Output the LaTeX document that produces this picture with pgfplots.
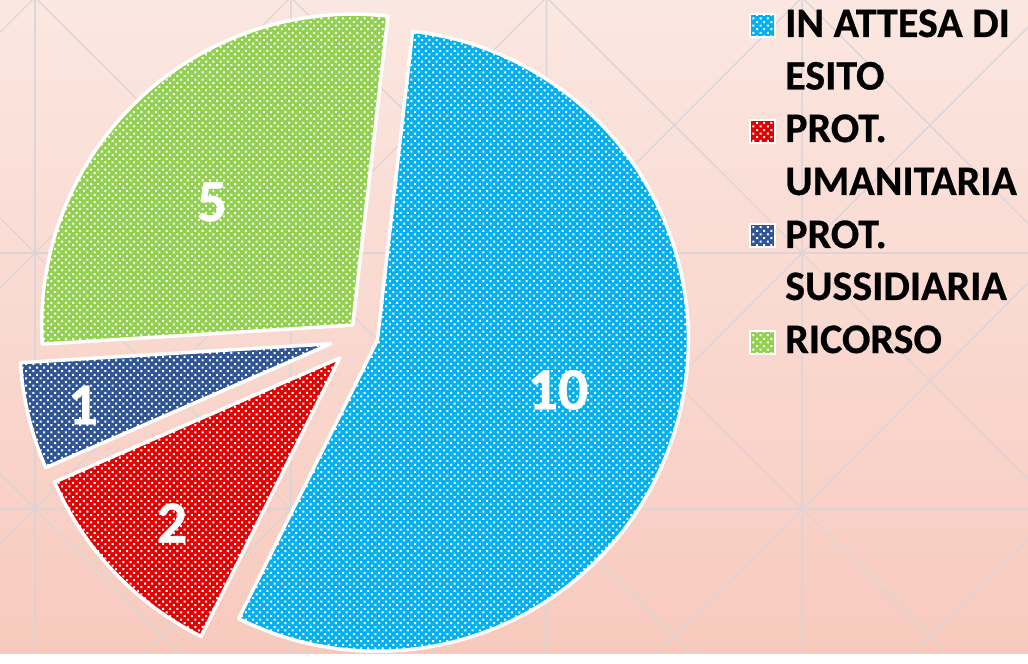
\documentclass[border=0pt]{standalone}
\usepackage{pgfplots}
\pgfplotsset{compat=1.18}
\usetikzlibrary{patterns}
\usepackage{fontspec}
\setmainfont{Carlito}[BoldFeatures={FakeBold=0.6}]

\definecolor{cblue}{RGB}{0,176,240}
\definecolor{cred}{RGB}{226,0,0}
\definecolor{cnavy}{RGB}{47,85,151}
\definecolor{cgreen}{RGB}{146,208,80}
\definecolor{bgtop}{RGB}{251,231,225}
\definecolor{bgbot}{RGB}{248,202,190}
\definecolor{gridc}{RGB}{218,212,214}

% white dots as in the office "dotted" fill
\pgfdeclarepatternformonly{whitedots}{\pgfqpoint{-1pt}{-1pt}}{\pgfqpoint{8pt}{8pt}}{\pgfqpoint{7.2pt}{7.2pt}}{%
  \pgfpathrectangle{\pgfqpoint{0pt}{0pt}}{\pgfqpoint{2pt}{2pt}}%
  \pgfpathrectangle{\pgfqpoint{3.6pt}{3.6pt}}{\pgfqpoint{2pt}{2pt}}%
  \pgfusepath{fill}}

% pie geometry (pixels, y downwards)
\def\total{18}
\def\startang{83.5}
\def\R{311}
\def\cx{363}
\def\cy{336}

\begin{document}
\begin{tikzpicture}
\begin{axis}[
    scale only axis, width=1028pt, height=653pt,
    xmin=0, xmax=1028, ymin=0, ymax=653,
    y dir=reverse,
    hide axis, clip=false,
  ]
  % background
  \fill[top color=bgtop, bottom color=bgbot] (axis cs:0,0) rectangle (axis cs:1028,653);
  \begin{scope}
  \clip (axis cs:0,0) rectangle (axis cs:1028,653);
  \foreach \k in {-1,0,1,2,3} {
    \foreach \j in {-1,0,1,2} {
      \pgfmathsetmacro\xa{35+255.7*\k}
      \pgfmathsetmacro\xb{35+255.7*(\k+1)}
      \pgfmathsetmacro\ya{-2.6+255.7*\j}
      \pgfmathsetmacro\yb{-2.6+255.7*(\j+1)}
      \edef\next{\noexpand\draw[gridc, line width=1.2pt]
        (axis cs:\xa,\ya) rectangle (axis cs:\xb,\yb)
        (axis cs:\xa,\ya) -- (axis cs:\xb,\yb)
        (axis cs:\xa,\yb) -- (axis cs:\xb,\ya);}
      \next
    }
  }
  \end{scope}

  % slices: value / colour / explosion
  \xdef\curang{\startang}
  \foreach \v/\col/\d in {10/cblue/15, 2/cred/32, 1/cnavy/33, 5/cgreen/15} {
    \pgfmathsetmacro\sweep{360*\v/\total}
    \pgfmathsetmacro\endang{\curang-\sweep}
    \pgfmathsetmacro\mid{\curang-\sweep/2}
    \pgfmathsetmacro\vx{\cx+\d*cos(\mid)}
    \pgfmathsetmacro\vy{\cy-\d*sin(\mid)}
    \edef\next{\noexpand\path[preaction={fill=\col}, pattern=whitedots, pattern color=white,
        draw=white, line width=3.5pt, line join=round]
      (axis cs:\vx,\vy) -- ++(\curang:\R pt)
      arc[start angle=\curang, end angle=\endang, radius=\R pt] -- cycle;}
    \next
    \xdef\curang{\endang}
  }

  % data labels
  \begin{scope}[every node/.style={text=white, font=\fontsize{60}{60}\selectfont\bfseries}]
    \node at (axis cs:558,390) {10};
    \node at (axis cs:212,202) {5};
    \node at (axis cs:83,405) {1};
    \node at (axis cs:172,523) {2};
  \end{scope}

  % legend
  \foreach \col/\yc in {cblue/26, cred/132, cnavy/236, cgreen/342} {
    \edef\next{\noexpand\path[preaction={fill=\col}, pattern=whitedots, pattern color=white,
        draw=white, line width=2pt]
      (axis cs:750,\yc-11.5) rectangle (axis cs:775,\yc+11.5);}
    \next
  }
  \begin{scope}[every node/.style={anchor=base west, inner sep=0pt, text=black,
      font=\fontsize{42}{42}\selectfont\bfseries}]
    \node at (axis cs:785,37) {IN ATTESA DI};
    \node at (axis cs:785,89.5) {ESITO};
    \node at (axis cs:785,142) {PROT.};
    \node at (axis cs:785,195) {UMANITARIA};
    \node at (axis cs:785,248) {PROT.};
    \node at (axis cs:785,300) {SUSSIDIARIA};
    \node at (axis cs:785,353) {RICORSO};
  \end{scope}
\end{axis}
\end{tikzpicture}
\end{document}
